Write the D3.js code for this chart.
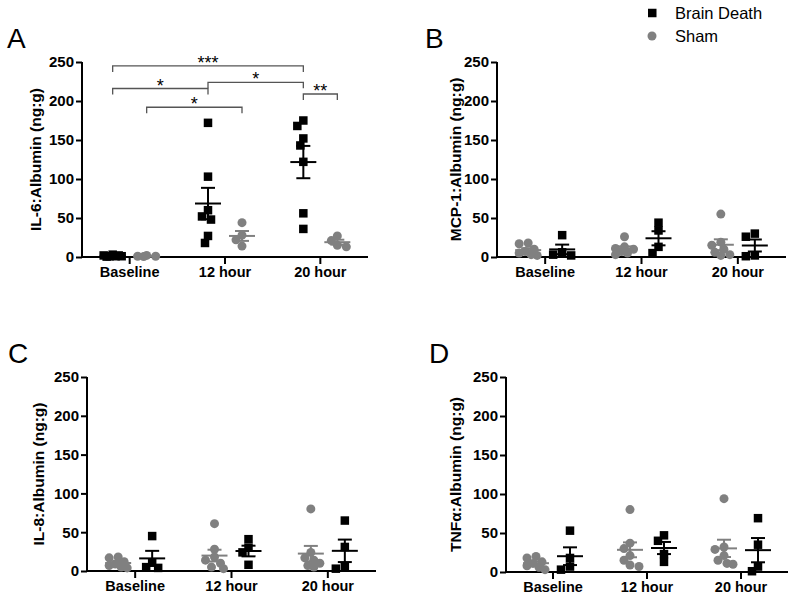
<!DOCTYPE html>
<html>
<head>
<meta charset="utf-8">
<script src="https://cdn.jsdelivr.net/npm/d3@7"></script>
<style>
  body { margin: 0; background: #fff; }
  svg { font-family: "Liberation Sans", Arial, sans-serif; }
</style>
</head>
<body>
<div id="chart"></div>
<script>
const groups = ['Baseline', '12 hour', '20 hour'];
const series = ['Brain Death', 'Sham'];
const y_ticks = [0, 50, 100, 150, 200, 250];

// values per group: Baseline, 12 hour, 20 hour
const il6_bd = [[3, 2, 1, 2, 1, 1, 0.5], [172, 103, 60, 52, 48, 27, 18], [175, 168, 152, 143, 122, 56, 36]];
const il6_sham = [[2, 1, 1, 0.5], [44, 28, 22, 14], [27, 21, 15, 13]];
const mcp1_bd = [[28, 6, 3, 2], [44, 34, 13, 5], [30, 26, 2, 1]];
const mcp1_sham = [[18, 17, 10, 7, 5, 3, 2], [26, 13, 11, 10, 7, 5, 3], [55, 19, 15, 10, 6, 3, 2]];
const il8_bd = [[45, 11, 5, 4], [41, 30, 24, 8], [65, 31, 5, 3]];
const il8_sham = [[18, 17, 12, 9, 7, 5, 4], [61, 28, 18, 14, 10, 5, 3], [80, 24, 17, 14, 10, 7, 5]];
const tnf_bd = [[53, 18, 7, 3], [47, 40, 23, 13], [69, 35, 7, 1]];
const tnf_sham = [[20, 18, 13, 11, 8, 6, 3], [80, 37, 30, 21, 15, 9, 7], [94, 32, 29, 21, 15, 11, 10]];

// significance brackets for panel A: [group, series] -> [group, series], level, label
const il6_sig = [
    {from: ['Baseline', 'Brain Death'], to: ['20 hour', 'Brain Death'], level: 245, label: '***'},
    {from: ['Baseline', 'Brain Death'], to: ['12 hour', 'Brain Death'], level: 216, label: '*'},
    {from: ['12 hour', 'Brain Death'], to: ['20 hour', 'Brain Death'], level: 224, label: '*'},
    {from: ['20 hour', 'Brain Death'], to: ['20 hour', 'Sham'], level: 209, label: '**'},
    {from: ['Baseline', 'Sham'], to: ['12 hour', 'Sham'], level: 192, label: '*'}
];

const colors = {'Brain Death': '#000000', 'Sham': '#808080'};
const font = '"Liberation Sans", Arial, sans-serif';

const panels = [
    {letter: 'A', title: 'IL-6:Albumin (ng:g)', bd: il6_bd, sham: il6_sham, order: ['Brain Death', 'Sham'],
     sig: il6_sig, x0: 82, x1: 368, top: 62, bottom: 257, lx: 7, ly: 48, tx: 35},
    {letter: 'B', title: 'MCP-1:Albumin (ng:g)', bd: mcp1_bd, sham: mcp1_sham, order: ['Sham', 'Brain Death'],
     sig: [], x0: 497, x1: 786, top: 62, bottom: 257, lx: 425, ly: 48, tx: 455},
    {letter: 'C', title: 'IL-8:Albumin (ng:g)', bd: il8_bd, sham: il8_sham, order: ['Sham', 'Brain Death'],
     sig: [], x0: 87, x1: 376, top: 377, bottom: 571, lx: 8, ly: 363, tx: 38},
    {letter: 'D', title: 'TNFα:Albumin (ng:g)', bd: tnf_bd, sham: tnf_sham, order: ['Sham', 'Brain Death'],
     sig: [], x0: 506, x1: 788, top: 377, bottom: 572, lx: 429, ly: 363, tx: 455}
];

const svg = d3.select('#chart')
    .append('svg')
    .attr('width', 800)
    .attr('height', 599);

// spread overlapping points sideways
function dodge(values, y) {
    const placed = [];
    const steps = [0, -3, 3, -6, 6, -9, 9];
    return values.map(v => {
        const py = y(v);
        let best = null, bestDist = -1;
        for (const off of steps) {
            const d = placed.length ? d3.min(placed, p => Math.hypot(p.dx - off, p.y - py)) : Infinity;
            if (d >= 7.2) { best = off; break; }
            if (d > bestDist) { bestDist = d; best = off; }
        }
        placed.push({dx: best, y: py});
        return {v: v, dx: best};
    });
}

panels.forEach(p => {
    const g = svg.append('g');

    const x = d3.scaleBand().domain(groups).range([p.x0, p.x1]);
    const inner = d3.scalePoint().domain(p.order).range([-17, 17]);
    const y = d3.scaleLinear().domain([0, 250]).range([p.bottom, p.top]);
    const pos = (grp, s) => x(grp) + x.bandwidth() / 2 + inner(s);

    // axes
    const yAxis = g.append('g')
        .attr('transform', `translate(${p.x0},0)`)
        .call(d3.axisLeft(y).tickValues(y_ticks).tickSize(6).tickPadding(2));
    const xAxis = g.append('g')
        .attr('transform', `translate(0,${p.bottom})`)
        .call(d3.axisBottom(x).tickSize(7).tickPadding(3));
    [yAxis, xAxis].forEach(a => {
        a.select('.domain').attr('stroke', '#000').attr('stroke-width', 2);
        a.selectAll('.tick line').attr('stroke', '#000').attr('stroke-width', 2);
        a.selectAll('text').attr('fill', '#000').attr('font-weight', 'bold').attr('font-family', font);
    });
    yAxis.select('.domain').attr('d', `M0,${p.bottom}V${p.top}`);
    xAxis.select('.domain').attr('d', `M${p.x0},0H${p.x1}`);
    yAxis.selectAll('text').attr('font-size', 15);
    xAxis.selectAll('text').attr('font-size', 14.5);

    // axis title
    g.append('text')
        .attr('transform', `translate(${p.tx},${(p.top + p.bottom) / 2}) rotate(-90)`)
        .attr('text-anchor', 'middle')
        .attr('dominant-baseline', 'central')
        .attr('font-size', 15.5)
        .attr('font-weight', 'bold')
        .text(p.title);

    // panel letter
    g.append('text')
        .attr('x', p.lx)
        .attr('y', p.ly)
        .attr('font-size', 28)
        .text(p.letter);

    // points + mean/SEM
    const sets = {'Brain Death': p.bd, 'Sham': p.sham};
    p.order.forEach(s => {
        groups.forEach((grp, i) => {
            const vals = sets[s][i];
            const cx = pos(grp, s);
            const pts = dodge(vals, y);
            if (s === 'Brain Death') {
                g.selectAll(null)
                    .data(pts)
                    .enter()
                    .append('rect')
                    .attr('x', d => cx + d.dx - 4.25)
                    .attr('y', d => y(d.v) - 4.25)
                    .attr('width', 8.5)
                    .attr('height', 8.5)
                    .attr('fill', colors[s]);
            } else {
                g.selectAll(null)
                    .data(pts)
                    .enter()
                    .append('circle')
                    .attr('cx', d => cx + d.dx)
                    .attr('cy', d => y(d.v))
                    .attr('r', 4.5)
                    .attr('fill', colors[s]);
            }
            const mean = d3.mean(vals);
            const sem = d3.deviation(vals) / Math.sqrt(vals.length);
            const eb = g.append('g').attr('stroke', colors[s]).attr('stroke-width', 2);
            eb.append('line').attr('x1', cx - 13).attr('x2', cx + 13).attr('y1', y(mean)).attr('y2', y(mean));
            eb.append('line').attr('x1', cx).attr('x2', cx).attr('y1', y(mean - sem)).attr('y2', y(mean + sem));
            [mean - sem, mean + sem].forEach(v => {
                eb.append('line').attr('x1', cx - 7).attr('x2', cx + 7).attr('y1', y(v)).attr('y2', y(v));
            });
        });
    });

    // significance brackets
    p.sig.forEach(b => {
        const xa = pos(b.from[0], b.from[1]);
        const xb = pos(b.to[0], b.to[1]);
        const yy = y(b.level);
        g.append('path')
            .attr('d', `M${xa},${yy + 6}V${yy}H${xb}V${yy + 6}`)
            .attr('fill', 'none')
            .attr('stroke', '#555')
            .attr('stroke-width', 1.3);
        g.append('text')
            .attr('x', (xa + xb) / 2)
            .attr('y', yy + 3)
            .attr('text-anchor', 'middle')
            .attr('font-size', 18)
            .text(b.label);
    });
});

// legend
const legend = svg.append('g');
series.forEach((s, i) => {
    const ly = 13 + i * 23;
    if (s === 'Brain Death') {
        legend.append('rect').attr('x', 648).attr('y', ly - 4.25).attr('width', 8.5).attr('height', 8.5).attr('fill', colors[s]);
    } else {
        legend.append('circle').attr('cx', 652).attr('cy', ly).attr('r', 4.5).attr('fill', colors[s]);
    }
    legend.append('text')
        .attr('x', 675)
        .attr('y', ly)
        .attr('dominant-baseline', 'central')
        .attr('font-size', 16.5)
        .text(s);
});
</script>
</body>
</html>
